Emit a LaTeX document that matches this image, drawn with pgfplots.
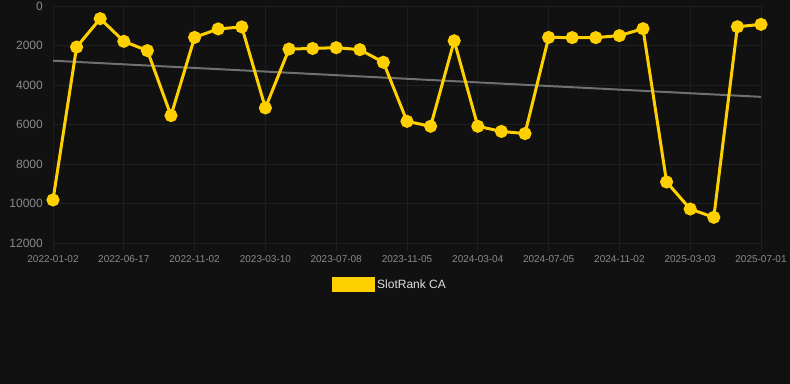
\documentclass[border=0pt]{standalone}
\usepackage{fontspec}
\setmainfont{Liberation Sans}
\usepackage{pgfplots}
\pgfplotsset{compat=1.18}
\definecolor{bg}{HTML}{111111}
\definecolor{gridc}{HTML}{1F1F1F}
\definecolor{tickc}{HTML}{8A8A8A}
\definecolor{gold}{HTML}{FFD000}
\definecolor{trend}{HTML}{707070}
\definecolor{legtext}{HTML}{E0E0E0}
\begin{document}
\begin{tikzpicture}
\fill[bg] (0,0) rectangle (790bp,384bp);
\begin{axis}[
  at={(53bp,141bp)}, anchor=south west,
  scale only axis, width=708bp, height=237bp,
  xmin=0, xmax=30, ymin=0, ymax=12000, y dir=reverse,
  axis line style={draw=none},
  grid=major, grid style={gridc, line width=0.8pt},
  xtick={0,3,...,30},
  xticklabels={2022-01-02,2022-06-17,2022-11-02,2023-03-10,2023-07-08,2023-11-05,2024-03-04,2024-07-05,2024-11-02,2025-03-03,2025-07-01},
  ytick={0,2000,...,12000},
  scaled y ticks=false,
  xtick pos=left, xticklabel pos=left,
  ytick pos=left,
  tick align=outside,
  major tick length=8bp,
  xtick style={gridc, line width=0.8pt},
  ytick style={draw=none},
  /pgf/number format/assume math mode=true,
  /pgf/number format/1000 sep={},
  yticklabel style={font=\fontsize{12bp}{14bp}\selectfont, color=tickc, inner sep=0pt, anchor=east, xshift=-2bp},
  xticklabel style={font=\fontsize{10bp}{12bp}\selectfont, color=tickc, inner sep=0pt, anchor=north, yshift=-4bp},
  clip=false,
  legend style={at={(0.476,-0.175)}, anchor=center, draw=none, fill=none, text=legtext,
    font=\fontsize{12bp}{14bp}\selectfont, inner sep=0pt},
  legend image code/.code={\fill[gold] (-3bp,-6bp) rectangle (37bp,6bp);},
]
\addplot[trend, line width=2bp, forget plot] coordinates {(0,2770) (30,4600)};
\addplot[gold, line width=3bp, mark=*, mark size=5bp, mark options={solid, fill=gold, draw=none}] coordinates {
(0,9820) (1,2080) (2,640) (3,1790) (4,2260) (5,5550) (6,1590) (7,1160) (8,1060) (9,5160)
(10,2180) (11,2150) (12,2110) (13,2210) (14,2850) (15,5840) (16,6090) (17,1760) (18,6090) (19,6350)
(20,6460) (21,1590) (22,1600) (23,1600) (24,1500) (25,1150) (26,8910) (27,10280) (28,10700) (29,1050) (30,930)
};
\addlegendentry{SlotRank CA}
\end{axis}
\end{tikzpicture}
\end{document}
